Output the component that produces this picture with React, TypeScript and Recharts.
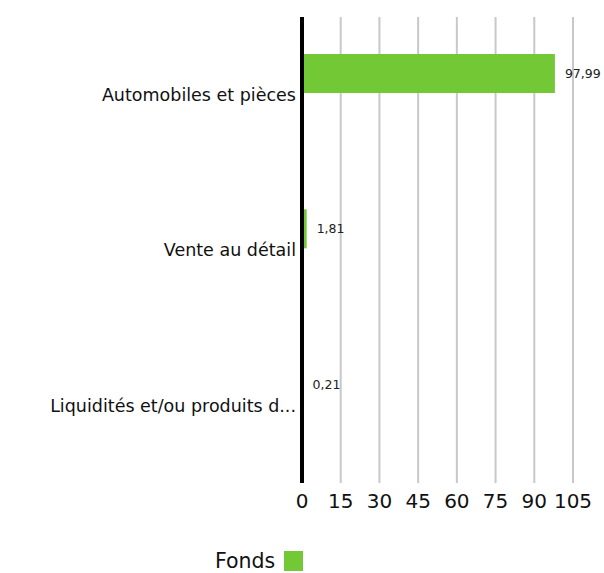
import React from 'react';
import { BarChart, Bar, XAxis, YAxis, CartesianGrid, Legend, LabelList } from 'recharts';

const categories = ['Automobiles et pièces', 'Vente au détail', 'Liquidités et/ou produits dérivés'];
const fondsValues = [97.99, 1.81, 0.21];
const xTicks = [0, 15, 30, 45, 60, 75, 90, 105];

const GREEN = '#73c935';
const FONT = '"DejaVu Sans", "Noto Sans", sans-serif';

const data = categories.map((name, i) => ({ name, fonds: fondsValues[i] }));

const shorten = (s: string) => (s.length > 28 ? s.slice(0, 27) + '...' : s);

const fmt = (v: number) => v.toFixed(2).replace('.', ',');

const FondsLegend = () => (
  <div style={{ display: 'flex', alignItems: 'center', height: 20, marginTop: -2, paddingLeft: 207, fontFamily: FONT, fontSize: 20.5, color: '#111' }}>
    <span style={{ marginRight: 9, lineHeight: '18px' }}>Fonds</span>
    <span style={{ display: 'inline-block', width: 19, height: 20, background: GREEN }} />
  </div>
);

export default function App() {
  return (
    <div style={{ position: 'absolute', left: 8, top: 8, width: 596, height: 565, overflow: 'hidden' }}>
      <BarChart
        width={596}
        height={575}
        data={data}
        layout="vertical"
        margin={{ top: 9, right: 31, left: 0, bottom: 0 }}
        barGap={4}
        style={{ overflow: 'visible' }}
      >
        <CartesianGrid horizontal={false} stroke="#c8c8c8" strokeWidth={2} />
        <XAxis
          type="number"
          domain={[0, 105]}
          ticks={xTicks}
          axisLine={false}
          tickLine={false}
          height={70}
          tickMargin={5}
          interval={0}
          tick={{ fill: '#111', fontSize: 20, fontFamily: FONT }}
        />
        <YAxis
          type="category"
          dataKey="name"
          width={294}
          axisLine={{ stroke: '#000', strokeWidth: 4 }}
          tickLine={false}
          tickMargin={0}
          tickFormatter={shorten}
          tick={{ fill: '#111', fontSize: 17.5, fontFamily: FONT }}
        />
        <Legend verticalAlign="bottom" height={30} content={<FondsLegend />} />
        <Bar dataKey="fonds" name="Fonds" fill={GREEN} barSize={39} isAnimationActive={false}>
          <LabelList
            dataKey="fonds"
            position="right"
            offset={10}
            formatter={(v: number) => fmt(v)}
            style={{ fill: '#222', fontSize: 12.5, fontFamily: FONT }}
          />
        </Bar>
        <Bar dataKey="reference" name="Référence" fill="#000" barSize={39} legendType="none" isAnimationActive={false} />
      </BarChart>
    </div>
  );
}
